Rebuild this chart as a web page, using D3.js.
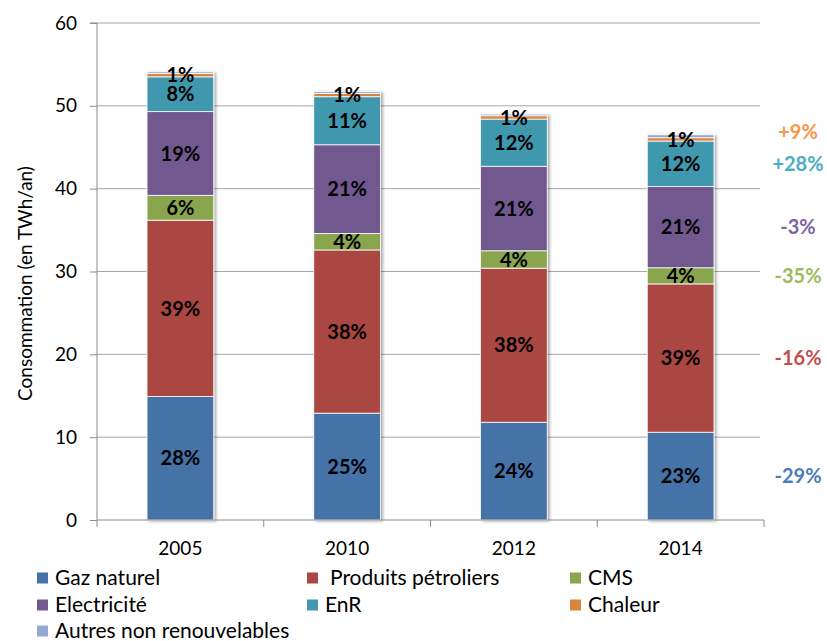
<!DOCTYPE html>
<html>
<head>
<meta charset="utf-8">
<script src="https://cdn.jsdelivr.net/npm/d3@7"></script>
<style>
  body { margin: 0; background: #fff; }
  svg { display: block; font-family: Lato, "Open Sans", sans-serif; }
</style>
</head>
<body>
<svg id="chart" width="827" height="641"></svg>
<script>
// Consommation d'énergie finale par source (TWh/an)
const years = ["2005", "2010", "2012", "2014"];
const seriesNames = ["Gaz naturel", "Produits pétroliers", "CMS", "Electricité", "EnR", "Chaleur", "Autres non renouvelables"];
const gaz     = [14.9, 12.9, 11.8, 10.6];
const petrole = [21.3, 19.7, 18.6, 17.9];
const cms     = [3.0, 2.0, 2.1, 1.95];
const elec    = [10.1, 10.7, 10.2, 9.8];
const enr     = [4.2, 5.8, 5.7, 5.5];
const chaleur = [0.4, 0.4, 0.4, 0.4];
const autres  = [0.2, 0.2, 0.2, 0.35];

// Part de chaque source dans le total de l'année
const pctGaz     = ["28%", "25%", "24%", "23%"];
const pctPetrole = ["39%", "38%", "38%", "39%"];
const pctCms     = ["6%", "4%", "4%", "4%"];
const pctElec    = ["19%", "21%", "21%", "21%"];
const pctEnr     = ["8%", "11%", "12%", "12%"];
const pctChaleur = ["1%", "1%", "1%", "1%"];

// Évolution 2005-2014 par source
const evolution = ["-29%", "-16%", "-35%", "-3%", "+28%", "+9%", null];

const yTicks = [0, 10, 20, 30, 40, 50, 60];
const colors = ["#4572A7", "#AA4643", "#89A54E", "#71588F", "#4198AF", "#DB843D", "#93A9CF"];
const evoColors = ["#4a7ebb", "#c0504d", "#9bbb59", "#8064a2", "#4bacc6", "#f79646", null];

const values = [gaz, petrole, cms, elec, enr, chaleur, autres];
const labels = [pctGaz, pctPetrole, pctCms, pctElec, pctEnr, pctChaleur, null];

const rows = years.map((y, i) => {
  const r = { year: y };
  seriesNames.forEach((s, k) => r[s] = values[k][i]);
  return r;
});

const svg = d3.select("#chart");
const margin = { left: 97, right: 63, top: 23, bottom: 121 };
const W = 827, H = 641;

const x = d3.scaleBand().domain(years).range([margin.left, W - margin.right]).paddingInner(0.6).paddingOuter(0.3);
const xOuter = d3.scaleBand().domain(years).range([margin.left, W - margin.right]);
const y = d3.scaleLinear().domain([0, 60]).range([H - margin.bottom, margin.top]);

const stack = d3.stack().keys(seriesNames)(rows);

// Grid lines
svg.append("g").selectAll("line").data(yTicks.slice(1)).join("line")
  .attr("x1", margin.left).attr("x2", W - margin.right - 4)
  .attr("y1", d => y(d)).attr("y2", d => y(d))
  .attr("stroke", "#a6a6a6").attr("stroke-width", 1);

// Shadow filter for bars
const defs = svg.append("defs");
const f = defs.append("filter").attr("id", "sh").attr("x", "-10%").attr("y", "-10%").attr("width", "130%").attr("height", "130%");
f.append("feGaussianBlur").attr("in", "SourceAlpha").attr("stdDeviation", 1.5);
f.append("feOffset").attr("dx", 1.5).attr("dy", 1).attr("result", "b");
f.append("feComponentTransfer").append("feFuncA").attr("type", "linear").attr("slope", 0.35);
const m = f.append("feMerge");
m.append("feMergeNode");
m.append("feMergeNode").attr("in", "SourceGraphic");

// Stacked bars
const bars = svg.append("g").attr("filter", "url(#sh)");
stack.forEach((layer, k) => {
  bars.append("g").selectAll("rect").data(layer).join("rect")
    .attr("x", d => x(d.data.year))
    .attr("width", x.bandwidth())
    .attr("y", d => y(d[1]))
    .attr("height", d => y(d[0]) - y(d[1]))
    .attr("fill", colors[k])
    .attr("stroke", "#ffffff").attr("stroke-width", 0.8);
});

// Share labels inside bars
stack.forEach((layer, k) => {
  if (!labels[k]) return;
  svg.append("g").selectAll("text").data(layer).join("text")
    .attr("x", d => x(d.data.year) + x.bandwidth() / 2)
    .attr("y", d => y((d[0] + d[1]) / 2))
    .attr("dy", "0.36em")
    .attr("text-anchor", "middle")
    .attr("font-weight", "bold").attr("font-size", 20)
    .attr("fill", "#000")
    .text((d, i) => labels[k][i]);
});

// Evolution labels to the right
const last = years.length - 1;
stack.forEach((layer, k) => {
  if (!evolution[k]) return;
  const d = layer[last];
  const off = seriesNames[k] === "Chaleur" ? -8 : 0;
  svg.append("text")
    .attr("x", 798)
    .attr("y", y((d[0] + d[1]) / 2) + off)
    .attr("dy", "0.36em")
    .attr("text-anchor", "middle")
    .attr("font-weight", "bold").attr("font-size", 20)
    .attr("fill", evoColors[k])
    .text(evolution[k]);
});

// Y axis
const yAxis = svg.append("g").attr("transform", `translate(${margin.left},0)`)
  .call(d3.axisLeft(y).tickValues(yTicks).tickSize(7).tickPadding(13).tickFormat(d3.format("d")));
yAxis.select(".domain").attr("stroke", "#8c8c8c").attr("d", `M-7,${y(60)}H0V${y(0)}`);
yAxis.selectAll(".tick line").attr("stroke", "#8c8c8c");
yAxis.selectAll("text").attr("font-size", 19).attr("fill", "#000").attr("font-family", "Lato, sans-serif");

// X axis
const xg = svg.append("g").attr("transform", `translate(0,${y(0)})`);
xg.append("line").attr("x1", margin.left).attr("x2", W - margin.right).attr("stroke", "#8c8c8c");
const bounds = years.map(d => xOuter(d)).concat([W - margin.right]);
xg.selectAll("line.t").data(bounds).join("line").attr("class", "t")
  .attr("x1", d => d).attr("x2", d => d).attr("y1", 0).attr("y2", 7).attr("stroke", "#8c8c8c");
xg.selectAll("text").data(years).join("text")
  .attr("x", d => xOuter(d) + xOuter.bandwidth() / 2)
  .attr("y", 28).attr("dy", "0.35em").attr("text-anchor", "middle")
  .attr("font-size", 19).attr("fill", "#000")
  .text(d => d);

// Y axis title
svg.append("text")
  .attr("transform", `translate(32,${(y(0) + y(60)) / 2 + 12}) rotate(-90)`)
  .attr("text-anchor", "middle").attr("font-size", 19).attr("fill", "#000")
  .text("Consommation (en TWh/an)");

// Legend
const legendPos = [
  [37, 578], [307, 578], [570, 578],
  [37, 605], [307, 605], [570, 605],
  [37, 631]
];
const lg = svg.append("g");
seriesNames.forEach((name, k) => {
  const [lx, ly] = legendPos[k];
  lg.append("rect").attr("x", lx).attr("y", ly - 5.5).attr("width", 11).attr("height", 11).attr("fill", colors[k]);
  lg.append("text").attr("x", lx + 18 + (k === 1 ? 5 : 0)).attr("y", ly).attr("dy", "0.35em")
    .attr("font-size", 21).attr("fill", "#000").text(name);
});
</script>
</body>
</html>
